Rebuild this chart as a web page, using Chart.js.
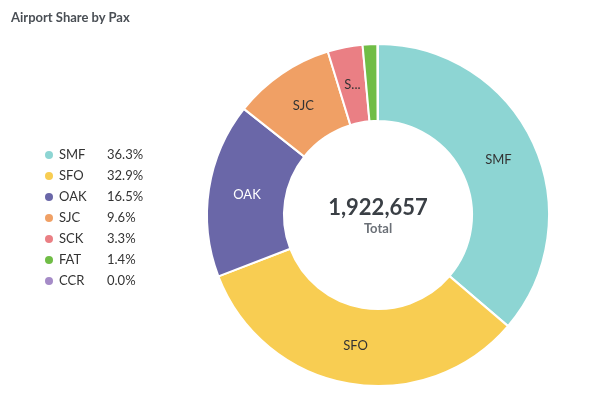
<!DOCTYPE html>
<html>
<head>
<meta charset="utf-8">
<script src="https://cdn.jsdelivr.net/npm/chart.js@4"></script>
<style>
  body { margin: 0; background: #fff; font-family: Lato, sans-serif; }
  #wrap { position: relative; width: 590px; height: 408px; }
  #title { position: absolute; left: 11px; top: 9px; font-size: 13px; font-weight: bold; color: #4a4f55; }
  #legend { position: absolute; left: 45px; top: 144px; font-size: 13px; color: #333; }
  .row { height: 21px; line-height: 21px; display: flex; align-items: center; }
  .dot { width: 8px; height: 8px; border-radius: 50%; margin-right: 6px; }
  .lbl { width: 48px; }
</style>
</head>
<body>
<div id="wrap">
  <div id="title">Airport Share by Pax</div>
  <div id="legend"></div>
  <canvas id="pie" width="590" height="408"></canvas>
</div>
<script>
const airports = ['SMF', 'SFO', 'OAK', 'SJC', 'SCK', 'FAT', 'CCR'];
const pax = [697125, 632554, 317238, 184575, 63448, 26917, 800];
const colors = ['#8dd5d3', '#f8cd52', '#6a67a8', '#f0a065', '#ea7f84', '#70bd46', '#a58bc7'];
const sliceLabels = ['SMF', 'SFO', 'OAK', 'SJC', 'S...', '', ''];
const labelColors = ['#333', '#333', '#fff', '#333', '#333', '#333', '#333'];

const total = pax.reduce((a, b) => a + b, 0);

const legend = document.getElementById('legend');
airports.forEach((a, i) => {
    const pct = (pax[i] / total * 100).toFixed(1) + '%';
    legend.innerHTML += '<div class="row"><span class="dot" style="background:' + colors[i] + '"></span>' +
        '<span class="lbl">' + a + '</span><span>' + pct + '</span></div>';
});

const labelPlugin = {
    id: 'sliceLabels',
    afterDatasetsDraw(chart) {
        const ctx = chart.ctx;
        const meta = chart.getDatasetMeta(0);
        ctx.save();
        ctx.textAlign = 'center';
        ctx.textBaseline = 'middle';
        ctx.font = '13px Lato';
        meta.data.forEach((arc, i) => {
            if (!sliceLabels[i]) return;
            const p = arc.tooltipPosition();
            ctx.fillStyle = labelColors[i];
            ctx.fillText(sliceLabels[i], p.x, p.y);
        });
        const c = meta.data[0];
        ctx.fillStyle = '#3a3f45';
        ctx.font = 'bold 22px Lato';
        ctx.fillText(total.toLocaleString('en-US'), c.x, c.y - 7);
        ctx.fillStyle = '#6b7077';
        ctx.font = 'bold 13px Lato';
        ctx.fillText('Total', c.x, c.y + 14);
        ctx.restore();
    }
};

new Chart(document.getElementById('pie'), {
    type: 'doughnut',
    data: {
        labels: airports,
        datasets: [{
            data: pax,
            backgroundColor: colors,
            borderColor: '#fff',
            borderWidth: 2
        }]
    },
    options: {
        responsive: false,
        animation: false,
        cutout: '55%',
        layout: { padding: { left: 206, right: 40, top: 43, bottom: 21 } },
        plugins: { legend: { display: false }, tooltip: { enabled: false } }
    },
    plugins: [labelPlugin]
});
</script>
</body>
</html>
